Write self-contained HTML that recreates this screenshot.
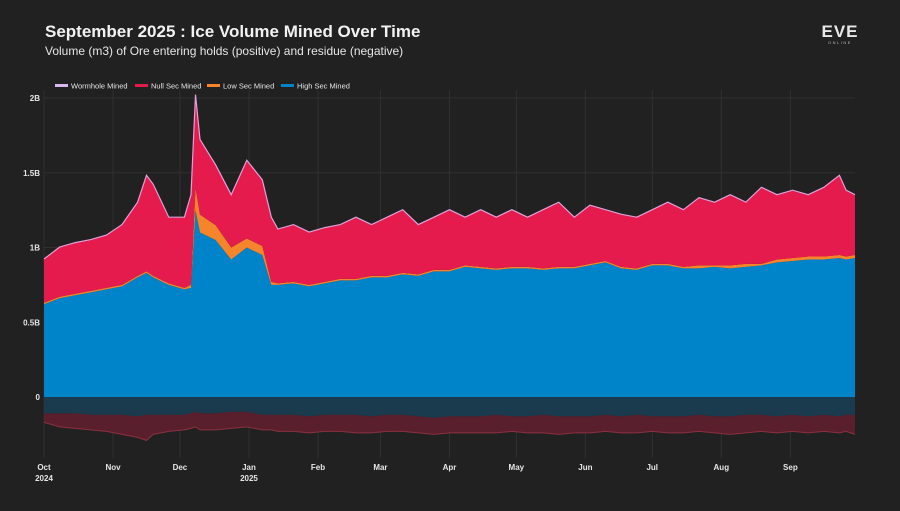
<!DOCTYPE html>
<html><head><meta charset="utf-8">
<style>
html,body{margin:0;padding:0;background:#212121;}
body{width:900px;height:506px;overflow:hidden;font-family:"Liberation Sans",sans-serif;}
svg text{font-family:"Liberation Sans",sans-serif;}
</style></head>
<body>
<svg id="chart" width="900" height="506" xmlns="http://www.w3.org/2000/svg">
<rect width="900" height="506" fill="#212121"/>
<text x="45" y="37" fill="#f2f2f2" font-size="17" font-weight="bold">September 2025 : Ice Volume Mined Over Time</text>
<text x="45" y="55" fill="#e6e6e6" font-size="12">Volume (m3) of Ore entering holds (positive) and residue (negative)</text>
<g>
<text x="840" y="37" fill="#e8e8e8" font-size="17" font-weight="bold" text-anchor="middle" letter-spacing="1">EVE</text>
<text x="840" y="44" fill="#bbb" font-size="4" text-anchor="middle" letter-spacing="1.5">ONLINE</text>
</g>
<g id="grid"></g>
<g id="areas"></g>
<g id="axes"></g>
<g id="legend"></g>
</svg>
<script>
const days=[0,7,14,21,28,35,42,46,49,56,63,66,68,70,77,84,91,98,102,105,112,119,126,133,140,147,154,161,168,175,182,189,196,203,210,217,224,231,238,245,252,259,266,273,280,287,294,301,308,315,322,329,336,343,350,357,360,364];
const highSec=[0.62,0.66,0.68,0.70,0.72,0.74,0.80,0.83,0.80,0.75,0.72,0.73,1.25,1.1,1.05,0.92,1.0,0.95,0.75,0.75,0.76,0.74,0.76,0.78,0.78,0.80,0.80,0.82,0.81,0.84,0.84,0.87,0.86,0.85,0.86,0.86,0.85,0.86,0.86,0.88,0.90,0.86,0.85,0.88,0.88,0.86,0.86,0.87,0.86,0.87,0.88,0.90,0.91,0.92,0.92,0.93,0.92,0.93];
const lowSec=[0.01,0.01,0.01,0.01,0.01,0.01,0.01,0.01,0.01,0.01,0.01,0.02,0.15,0.12,0.1,0.08,0.06,0.06,0.02,0.01,0.01,0.01,0.01,0.01,0.01,0.01,0.01,0.01,0.01,0.01,0.01,0.01,0.01,0.01,0.01,0.01,0.01,0.01,0.01,0.01,0.01,0.01,0.01,0.01,0.01,0.01,0.02,0.01,0.02,0.02,0.01,0.02,0.02,0.02,0.02,0.02,0.02,0.02];
const total=[0.92,1.0,1.03,1.05,1.08,1.15,1.3,1.48,1.42,1.2,1.2,1.35,2.02,1.72,1.55,1.35,1.58,1.45,1.2,1.12,1.15,1.1,1.13,1.15,1.2,1.15,1.2,1.25,1.15,1.2,1.25,1.2,1.25,1.2,1.25,1.2,1.25,1.3,1.2,1.28,1.25,1.22,1.2,1.25,1.3,1.25,1.33,1.3,1.35,1.3,1.4,1.35,1.38,1.35,1.4,1.48,1.38,1.35];
const wormhole=days.map(()=>0.003);
const negHigh=[-0.11,-0.11,-0.11,-0.12,-0.12,-0.12,-0.13,-0.12,-0.12,-0.12,-0.12,-0.11,-0.1,-0.11,-0.11,-0.1,-0.1,-0.12,-0.12,-0.12,-0.12,-0.13,-0.12,-0.12,-0.12,-0.13,-0.12,-0.12,-0.13,-0.14,-0.13,-0.13,-0.13,-0.12,-0.13,-0.13,-0.12,-0.13,-0.13,-0.13,-0.12,-0.13,-0.12,-0.13,-0.13,-0.13,-0.12,-0.13,-0.13,-0.12,-0.12,-0.13,-0.12,-0.13,-0.12,-0.13,-0.12,-0.12];
const negTotal=[-0.17,-0.2,-0.21,-0.22,-0.23,-0.25,-0.27,-0.29,-0.25,-0.23,-0.22,-0.21,-0.2,-0.22,-0.22,-0.21,-0.2,-0.22,-0.22,-0.23,-0.23,-0.24,-0.23,-0.23,-0.24,-0.24,-0.23,-0.23,-0.24,-0.25,-0.24,-0.24,-0.24,-0.24,-0.23,-0.24,-0.24,-0.25,-0.24,-0.24,-0.23,-0.24,-0.24,-0.23,-0.24,-0.24,-0.23,-0.24,-0.25,-0.24,-0.23,-0.24,-0.23,-0.24,-0.23,-0.24,-0.23,-0.25];
const monthLabels=["Oct","Nov","Dec","Jan","Feb","Mar","Apr","May","Jun","Jul","Aug","Sep"];
const monthDays=[0,31,61,92,123,151,182,212,243,273,304,335];
const yTicks=[0,0.5,1,1.5,2];
const yTickLabels=["0","0.5B","1B","1.5B","2B"];

const NS="http://www.w3.org/2000/svg";
const X0=44,X1=855,Y0=397,PXB=149.5;
const xs=d=>X0+d*(X1-X0)/364;
const ys=v=>Y0-v*PXB;
function mk(tag,attrs,parent){const e=document.createElementNS(NS,tag);for(const k in attrs)e.setAttribute(k,attrs[k]);parent.appendChild(e);return e;}
const grid=document.getElementById('grid'),areas=document.getElementById('areas'),axes=document.getElementById('axes'),legend=document.getElementById('legend');

yTicks.forEach((t,i)=>{
  const l=mk('line',{x1:X0,x2:X1,y1:ys(t),y2:ys(t),stroke:'#303030','stroke-width':1},grid);
  
  
  const tx=mk('text',{x:40,y:ys(t)+3,fill:'#e6e6e6','font-size':8,'text-anchor':'end','font-weight':'bold'},axes);
  tx.textContent=yTickLabels[i];
  
  
});
monthDays.forEach((d,i)=>{
  const l=mk('line',{x1:xs(d),x2:xs(d),y1:90,y2:458,stroke:'#303030','stroke-width':1},grid);
  
  
  const tx=mk('text',{x:xs(d),y:470,fill:'#e6e6e6','font-size':8,'text-anchor':'middle','font-weight':'bold'},axes);
  tx.textContent=monthLabels[i];
  
  
});
[["2024",0],["2025",92]].forEach(([y,d])=>{
  const tx=mk('text',{x:xs(d),y:481,fill:'#e6e6e6','font-size':8,'text-anchor':'middle','font-weight':'bold'},axes);
  tx.textContent=y;
  
  
});

function band(lo,hi){
  let p='M'+days.map((d,i)=>xs(d).toFixed(1)+','+ys(hi[i]).toFixed(1)).join('L');
  for(let i=days.length-1;i>=0;i--)p+='L'+xs(days[i]).toFixed(1)+','+ys(lo[i]).toFixed(1);
  return p+'Z';
}
function line(v){return 'M'+days.map((d,i)=>xs(d).toFixed(1)+','+ys(v[i]).toFixed(1)).join('L');}
const zero=days.map(()=>0);
const lowTop=highSec.map((h,i)=>h+lowSec[i]);
const nullTop=total;
const whTop=total.map((t,i)=>t+wormhole[i]);

let a=mk('path',{d:band(negHigh,zero),fill:'#1a3a4e'},areas);

a=mk('path',{d:band(negTotal,negHigh),fill:'#5a1f2c'},areas);

a=mk('path',{d:line(negTotal),fill:'none',stroke:'#8a3040','stroke-width':1},areas);

a=mk('path',{d:band(zero,highSec),fill:'#0084c9'},areas);

a=mk('path',{d:band(highSec,lowTop),fill:'#f5842b'},areas);

a=mk('path',{d:band(lowTop,nullTop),fill:'#e41b4c'},areas);

a=mk('path',{d:line(whTop),fill:'none',stroke:'#e0a0d8','stroke-width':1.2},areas);


const legItems=[["Wormhole Mined","#d9b8f0",55],["Null Sec Mined","#e41b4c",135],["Low Sec Mined","#f5842b",207],["High Sec Mined","#0084c9",281]];
legItems.forEach(([n,c,x])=>{
  const g=mk('g',{},legend);
  
  
  mk('rect',{x:x,y:84,width:13,height:3,fill:c},g);
  const t=mk('text',{x:x+16,y:88.5,fill:'#e6e6e6','font-size':7.5},g);
  t.textContent=n;
});
</script>
</body></html>
